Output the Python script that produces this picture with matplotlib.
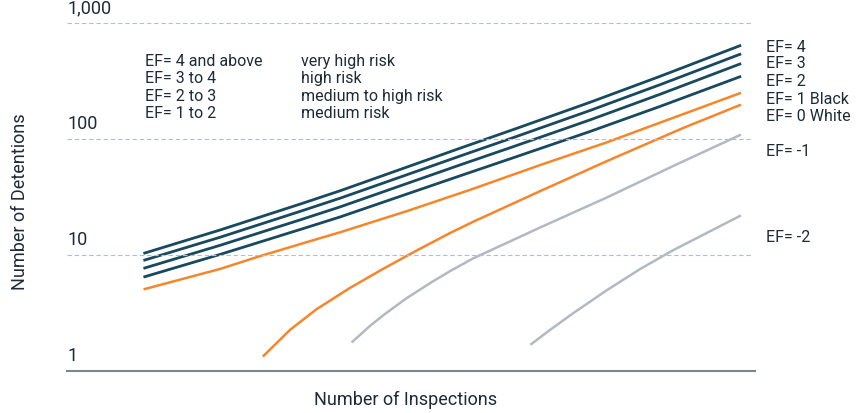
import matplotlib.pyplot as plt
from matplotlib.transforms import blended_transform_factory

plt.rcParams['font.family'] = ['Roboto', 'DejaVu Sans']

# number of inspections (arbitrary scale, 0-1000 across the plot) and detentions
x_dark = [113, 222, 339, 397, 571, 651, 760, 862, 978]
ef4 = [10.4, 16.4, 27.5, 35.8, 83.2, 122, 207, 347, 637]
ef3 = [9.05, 14.2, 23.8, 30.9, 71.2, 104, 176, 294, 537]
ef2 = [7.73, 12.1, 20.1, 26.0, 59.7, 86.9, 146, 243, 443]
ef1 = [6.50, 10.1, 16.6, 21.3, 48.1, 69.7, 116, 191, 344]

x_white = [113, 222, 281, 363, 397, 494, 585, 688, 785, 837, 978]
ef0_white = [5.09, 7.57, 9.80, 13.7, 15.7, 23.9, 36.3, 59.7, 93.7, 122, 248]

x_m1 = [286, 324, 363, 411, 459, 509, 557, 590, 688, 785, 895, 978]
ef_m1 = [1.355, 2.26, 3.42, 5.19, 7.57, 11.0, 15.5, 19.3, 35.6, 64.6, 124, 196]

x_m2 = [415, 440, 462, 494, 528, 557, 590, 688, 785, 881, 978]
ef_m2 = [1.79, 2.44, 3.10, 4.26, 5.74, 7.28, 9.33, 17.3, 31.4, 58.5, 108]

x_m3 = [675, 702, 736, 785, 833, 881, 930, 978]
ef_m3 = [1.71, 2.26, 3.16, 4.99, 7.57, 11.0, 15.5, 21.7]

legend_left = ['EF= 4 and above', 'EF= 3 to 4', 'EF= 2 to 3', 'EF= 1 to 2']
legend_right = ['very high risk', 'high risk', 'medium to high risk', 'medium risk']
end_labels = ['EF= 4', 'EF= 3', 'EF= 2', 'EF= 1 Black', 'EF= 0 White', 'EF= -1', 'EF= -2']
yticks = [1, 10, 100, 1000]
ytick_labels = ['1', '10', '100', '1,000']

dark = '#174a5e'
orange = '#f5862a'
grey = '#b3b8c5'
text_col = '#1e2a3a'

fig = plt.figure(figsize=(8.56, 4.14), dpi=100)
ax = fig.add_axes([0.0783, 0.1014, 0.8037, 0.8406])

for ys in [ef4, ef3, ef2, ef1]:
    ax.plot(x_dark, ys, color=dark, lw=2, solid_joinstyle='round')
ax.plot(x_white, ef0_white, color=orange, lw=1.8, solid_joinstyle='round')
ax.plot(x_m1, ef_m1, color=orange, lw=1.8, solid_joinstyle='round')
ax.plot(x_m2, ef_m2, color=grey, lw=1.8, solid_joinstyle='round')
ax.plot(x_m3, ef_m3, color=grey, lw=1.8, solid_joinstyle='round')

ax.set_yscale('log')
ax.set_ylim(1, 1000)
ax.set_xlim(0, 1000)
ax.set_xticks([])
ax.set_yticks([])
ax.minorticks_off()
for s in ['top', 'right', 'left']:
    ax.spines[s].set_visible(False)
ax.spines['bottom'].set_color('#7b8590')
ax.spines['bottom'].set_linewidth(1.5)

for v in yticks[1:]:
    ax.axhline(v, xmin=0, xmax=0.996, color='#b5bccb', lw=0.8, ls=(0, (4, 2.5)))

trans = blended_transform_factory(ax.transAxes, ax.transData)
for v, lab in zip(yticks, ytick_labels):
    ax.text(0.0, v * 1.15, lab, transform=trans, ha='left', va='bottom',
            fontsize=13, color=text_col)

fig.text(20 / 856, 1 - 202 / 414, 'Number of Detentions', rotation=90,
         ha='center', va='center', fontsize=13, color=text_col)
fig.text(406 / 856, 1 - 400 / 414, 'Number of Inspections',
         ha='center', va='center', fontsize=13, color=text_col)

for i, (a, b) in enumerate(zip(legend_left, legend_right)):
    yy = 61.5 + i * 17.4
    fig.text(145 / 856, 1 - yy / 414, a, fontsize=11.5, color=text_col, va='center')
    fig.text(301 / 856, 1 - yy / 414, b, fontsize=11.5, color=text_col, va='center')

end_y = [47, 64, 81, 99.5, 117, 152, 238]
for lab, yy in zip(end_labels, end_y):
    fig.text(766 / 856, 1 - yy / 414, lab, fontsize=11.5, color=text_col, va='center')

plt.savefig('out.png', dpi=100)
